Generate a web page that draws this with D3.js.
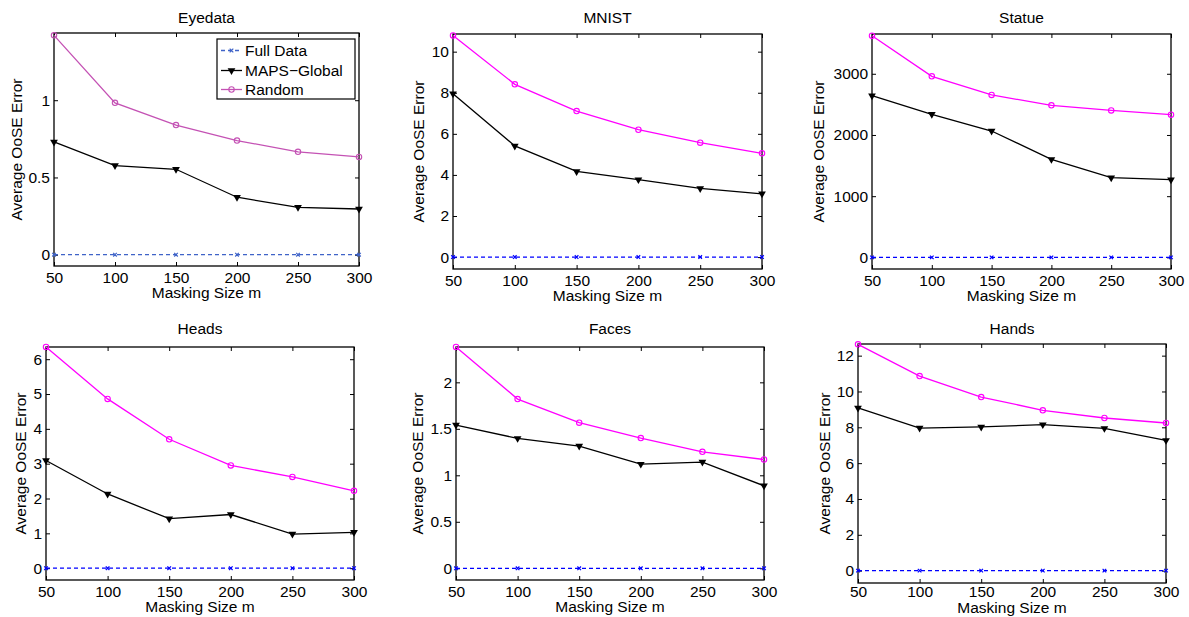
<!DOCTYPE html>
<html>
<head>
<meta charset="utf-8">
<script src="https://cdn.jsdelivr.net/npm/d3@7"></script>
<style>
  body { margin: 0; background: #fff; }
  svg { display: block; font-family: "Liberation Sans", Arial, Helvetica, sans-serif; }
</style>
</head>
<body>
<div id="plot"></div>
<script>
// masking sizes along the x axis
const masking = [50, 100, 150, 200, 250, 300];
// full data error is zero everywhere
const fullData = [0, 0, 0, 0, 0, 0];

// values
const eyedataRandom = [1.42, 0.983, 0.839, 0.739, 0.666, 0.633];
const eyedataMaps = [0.730, 0.577, 0.553, 0.372, 0.307, 0.296];
const mnistRandom = [10.79, 8.41, 7.11, 6.20, 5.57, 5.05];
const mnistMaps = [7.95, 5.41, 4.17, 3.77, 3.34, 3.08];
const statueRandom = [3622, 2958, 2654, 2484, 2402, 2332];
const statueMaps = [2642, 2337, 2065, 1601, 1302, 1270];
const headsRandom = [6.35, 4.86, 3.70, 2.95, 2.62, 2.22];
const headsMaps = [3.09, 2.13, 1.42, 1.54, 0.98, 1.03];
const facesRandom = [2.38, 1.82, 1.566, 1.40, 1.253, 1.170];
const facesMaps = [1.54, 1.397, 1.315, 1.12, 1.142, 0.887];
const handsRandom = [12.63, 10.86, 9.69, 8.95, 8.52, 8.24];
const handsMaps = [9.08, 7.96, 8.02, 8.15, 7.94, 7.27];

// tick labels
const eyedataTicks = [0, 0.5, 1];
const mnistTicks = [0, 2, 4, 6, 8, 10];
const statueTicks = [0, 1000, 2000, 3000];
const headsTicks = [0, 1, 2, 3, 4, 5, 6];
const facesTicks = [0, 0.5, 1, 1.5, 2];
const handsTicks = [0, 2, 4, 6, 8, 10, 12];

const seriesNames = ['Full Data', 'MAPS\u2212Global', 'Random'];

// panel layout (box edges in px) and y range
const panels = [
    { title: 'Eyedata', random: eyedataRandom, maps: eyedataMaps, ticks: eyedataTicks,
      ydom: [-0.073, 1.435], box: [54, 33, 359, 266], ylab: 22, titleY: 23, xlab: 298, pad: 6,
      pink: '#c452b4', blue: '#3f63c8', legend: true },
    { title: 'MNIST', random: mnistRandom, maps: mnistMaps, ticks: mnistTicks,
      ydom: [-0.58, 10.86], box: [453, 34, 762, 269], ylab: 424, titleY: 23, xlab: 301, pad: 6,
      pink: '#ff00ff', blue: '#0000ff' },
    { title: 'Statue', random: statueRandom, maps: statueMaps, ticks: statueTicks,
      ydom: [-190, 3650], box: [872, 34, 1171, 269], ylab: 824, titleY: 23, xlab: 301, pad: 6,
      pink: '#ff00ff', blue: '#0000ff' },
    { title: 'Heads', random: headsRandom, maps: headsMaps, ticks: headsTicks,
      ydom: [-0.34, 6.35], box: [46, 347, 354, 580], ylab: 26, titleY: 334, xlab: 612, pad: 6,
      pink: '#ff00ff', blue: '#0000ff' },
    { title: 'Faces', random: facesRandom, maps: facesMaps, ticks: facesTicks,
      ydom: [-0.126, 2.38], box: [456, 347, 764, 580], ylab: 423, titleY: 334, xlab: 612, pad: 6,
      pink: '#ff00ff', blue: '#0000ff' },
    { title: 'Hands', random: handsRandom, maps: handsMaps, ticks: handsTicks,
      ydom: [-0.69, 12.65], box: [858, 344, 1166, 583], ylab: 830, titleY: 334, xlab: 612.5, pad: 3,
      pink: '#ff00ff', blue: '#0000ff' }
];

const svg = d3.select('#plot').append('svg')
    .attr('width', 1189)
    .attr('height', 617);

const tri = d3.symbol().type(d3.symbolTriangle).size(26);

function drawPanel(p) {
    let [x0, y0, x1, y1] = p.box;
    let x = d3.scaleLinear().domain([50, 300]).range([x0, x1]);
    let y = d3.scaleLinear().domain(p.ydom).range([y1, y0]);
    let g = svg.append('g');

    // axes with ticks pointing inward
    let fmt = d => String(d);
    g.append('g').attr('transform', `translate(0,${y1})`)
        .call(d3.axisBottom(x).tickValues(masking).tickFormat(fmt).tickSizeInner(-4).tickSizeOuter(0).tickPadding(p.pad));
    g.append('g').attr('transform', `translate(0,${y0})`)
        .call(d3.axisTop(x).tickValues(masking).tickFormat('').tickSizeInner(-4).tickSizeOuter(0));
    g.append('g').attr('transform', `translate(${x0},0)`)
        .call(d3.axisLeft(y).tickValues(p.ticks).tickFormat(fmt).tickSizeInner(-4).tickSizeOuter(0).tickPadding(4));
    g.append('g').attr('transform', `translate(${x1},0)`)
        .call(d3.axisRight(y).tickValues(p.ticks).tickFormat('').tickSizeInner(-4).tickSizeOuter(0));
    g.selectAll('.domain').remove();
    g.selectAll('.tick line').attr('stroke', '#000');
    g.selectAll('.tick text').attr('font-size', 15.5).attr('fill', '#000').attr('font-family', null);

    // box
    g.append('rect')
        .attr('x', x0).attr('y', y0)
        .attr('width', x1 - x0).attr('height', y1 - y0)
        .attr('fill', 'none').attr('stroke', '#000').attr('stroke-width', 1.3);

    // titles and labels
    g.append('text').attr('x', (x0 + x1) / 2).attr('y', p.titleY)
        .attr('text-anchor', 'middle').attr('font-size', 15.5).text(p.title);
    g.append('text').attr('x', (x0 + x1) / 2).attr('y', p.xlab)
        .attr('text-anchor', 'middle').attr('font-size', 15.5).text('Masking Size m');
    g.append('text')
        .attr('transform', `translate(${p.ylab},${(y0 + y1) / 2}) rotate(-90)`)
        .attr('text-anchor', 'middle').attr('font-size', 15.5).text('Average OoSE Error');

    let line = d3.line().x((d, i) => x(masking[i])).y(d => y(d));

    // full data, dashed
    g.append('path').datum(fullData).attr('d', line)
        .attr('fill', 'none').attr('stroke', p.blue).attr('stroke-width', 1.3)
        .attr('stroke-dasharray', '4,3');
    g.selectAll('path.xm').data(fullData).enter().append('path')
        .attr('class', 'xm')
        .attr('d', (d, i) => {
            let cx = x(masking[i]), cy = y(d), s = 1.8;
            return `M${cx - s},${cy - s}L${cx + s},${cy + s}M${cx - s},${cy + s}L${cx + s},${cy - s}`;
        })
        .attr('stroke', p.blue).attr('stroke-width', 1.2);

    // MAPS-Global
    g.append('path').datum(p.maps).attr('d', line)
        .attr('fill', 'none').attr('stroke', '#000').attr('stroke-width', 1.3);
    g.selectAll('path.tri').data(p.maps).enter().append('path')
        .attr('class', 'tri')
        .attr('d', tri)
        .attr('transform', (d, i) => `translate(${x(masking[i])},${y(d)}) rotate(180)`)
        .attr('fill', '#000');

    // Random
    g.append('path').datum(p.random).attr('d', line)
        .attr('fill', 'none').attr('stroke', p.pink).attr('stroke-width', 1.3);
    g.selectAll('circle').data(p.random).enter().append('circle')
        .attr('cx', (d, i) => x(masking[i])).attr('cy', d => y(d)).attr('r', 2.7)
        .attr('fill', 'none').attr('stroke', p.pink).attr('stroke-width', 1.1);

    if (p.legend) drawLegend(p);
}

function drawLegend(p) {
    let lg = svg.append('g');
    lg.append('rect').attr('x', 217).attr('y', 39).attr('width', 138).attr('height', 60)
        .attr('fill', '#fff').attr('stroke', '#000').attr('stroke-width', 1.2);
    let rows = [50.5, 70.5, 89.5];
    let colors = [p.blue, '#000', p.pink];
    seriesNames.forEach((name, i) => {
        let cy = rows[i];
        let l = lg.append('line').attr('x1', 221).attr('x2', 242).attr('y1', cy).attr('y2', cy)
            .attr('stroke', colors[i]).attr('stroke-width', 1.3);
        if (i == 0) {
            l.attr('stroke-dasharray', '4,3');
            lg.append('path').attr('d', `M229.7,${cy - 1.8}L233.3,${cy + 1.8}M229.7,${cy + 1.8}L233.3,${cy - 1.8}`)
                .attr('stroke', colors[i]).attr('stroke-width', 1.2);
        } else if (i == 1) {
            lg.append('path').attr('d', tri).attr('transform', `translate(231.5,${cy}) rotate(180)`).attr('fill', '#000');
        } else {
            lg.append('circle').attr('cx', 231.5).attr('cy', cy).attr('r', 2.7)
                .attr('fill', 'none').attr('stroke', colors[i]).attr('stroke-width', 1.1);
        }
        lg.append('text').attr('x', 245).attr('y', cy + 5.6).attr('font-size', 15.5).text(name);
    });
}

panels.forEach(drawPanel);
</script>
</body>
</html>
